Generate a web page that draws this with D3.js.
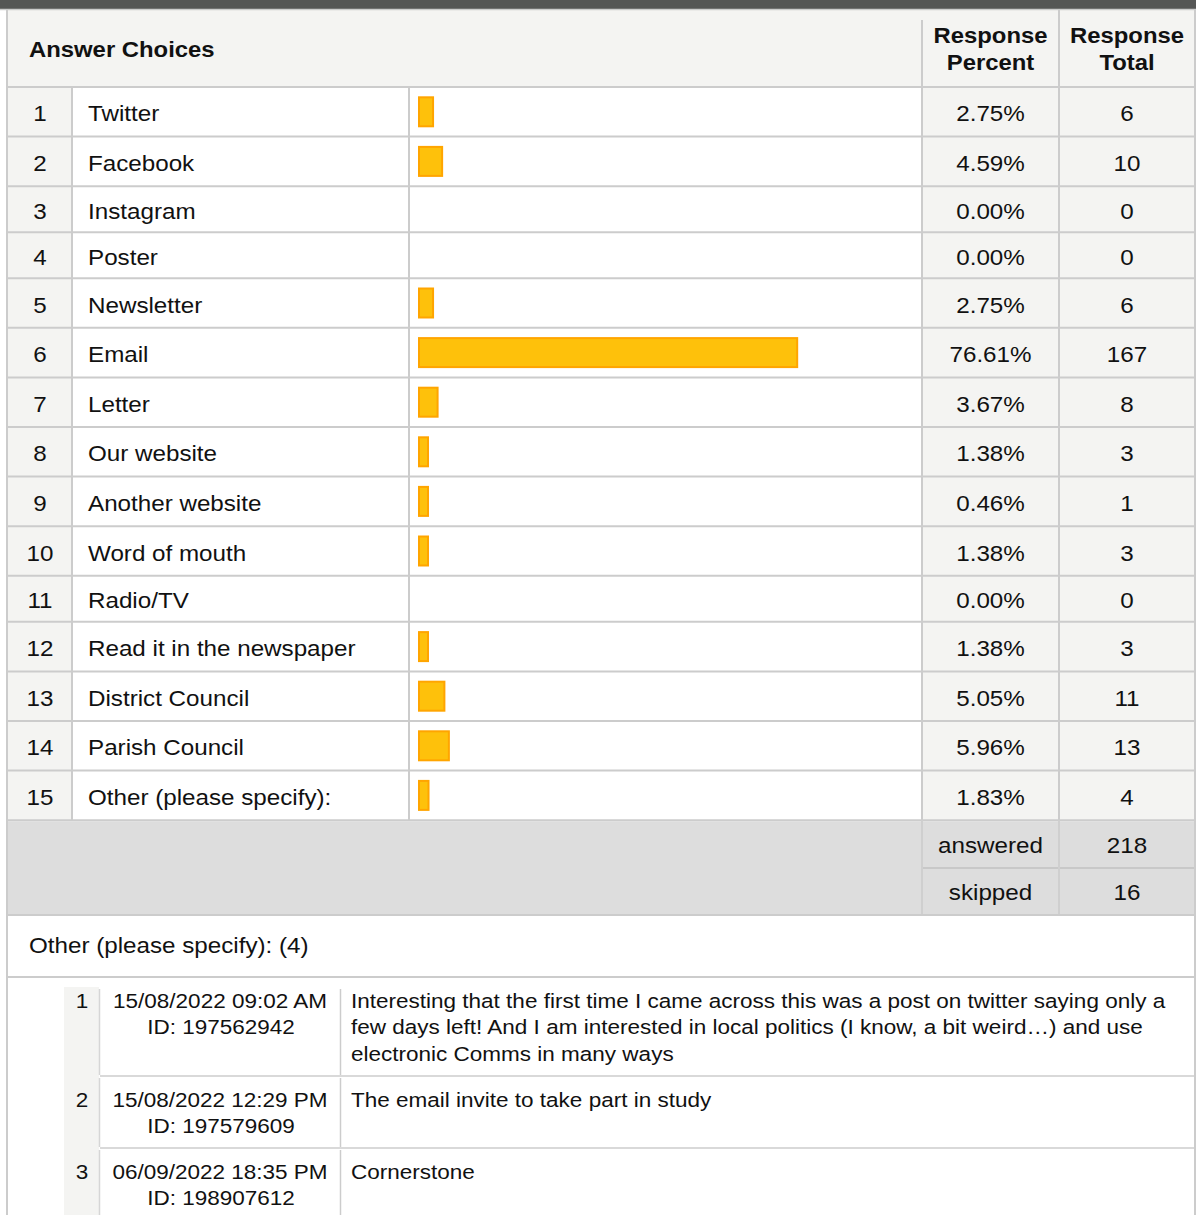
<!DOCTYPE html>
<html>
<head>
<meta charset="utf-8">
<script src="https://cdn.jsdelivr.net/npm/d3@7"></script>
<style>
  body { margin: 0; background: #fff; }
  svg { display: block; font-family: "Liberation Sans", Arial, sans-serif; }
</style>
</head>
<body>
<svg id="chart" width="1196" height="1215"></svg>
<script>
    // survey data
    var choices = ['Twitter', 'Facebook', 'Instagram', 'Poster', 'Newsletter', 'Email', 'Letter',
      'Our website', 'Another website', 'Word of mouth', 'Radio/TV', 'Read it in the newspaper',
      'District Council', 'Parish Council', 'Other (please specify):'];
    var percents = [2.75, 4.59, 0.00, 0.00, 2.75, 76.61, 3.67, 1.38, 0.46, 1.38, 0.00, 1.38, 5.05, 5.96, 1.83];
    var totals = [6, 10, 0, 0, 6, 167, 8, 3, 1, 3, 0, 3, 11, 13, 4];
    var summaryLabels = ['answered', 'skipped'];
    var summaryValues = [218, 16];
    var otherTitle = 'Other (please specify): (4)';
    var otherDates = ['15/08/2022 09:02 AM', '15/08/2022 12:29 PM', '06/09/2022 18:35 PM'];
    var otherIds = ['ID: 197562942', 'ID: 197579609', 'ID: 198907612'];
    var otherTexts = [
      ['Interesting that the first time I came across this was a post on twitter saying only a',
       'few days left! And I am interested in local politics (I know, a bit weird\u2026) and use',
       'electronic Comms in many ways'],
      ['The email invite to take part in study'],
      ['Cornerstone']
    ];

    var svg = d3.select('#chart');
    var W = 1196;
    var left = 7, right = 1195;
    var colNum = 72, colLabel = 409, colBar = 922, colPct = 1059;
    var lineColor = '#cccccc', lightBg = '#f4f4f2', greyBg = '#dddddd';

    // bar scale: percent -> px
    var x = d3.scaleLinear().domain([0, 100]).range([0, 493]);
    var fmt = d3.format('.2f');

    function hline(x1, x2, y, c, w) {
      svg.append('line').attr('x1', x1).attr('x2', x2).attr('y1', y).attr('y2', y)
        .attr('stroke', c || lineColor).attr('stroke-width', w || 2);
    }
    function vline(xp, y1, y2, c, w) {
      svg.append('line').attr('x1', xp).attr('x2', xp).attr('y1', y1).attr('y2', y2)
        .attr('stroke', c || lineColor).attr('stroke-width', w || 2);
    }
    // text is a bit wider than plain Liberation Sans in the source, so stretch it horizontally
    function text(s, xp, y, opts) {
      opts = opts || {};
      return svg.append('text')
        .attr('transform', 'translate(' + xp + ',' + y + ') scale(' + (opts.sx || 1.1) + ',1)')
        .attr('font-size', opts.size || 22)
        .attr('font-weight', opts.bold ? 'bold' : null)
        .attr('text-anchor', opts.anchor || 'start')
        .attr('fill', '#111')
        .text(s);
    }
    var head = {bold: true, size: 21.5, sx: 1.11};
    var headMid = {bold: true, size: 21.5, sx: 1.11, anchor: 'middle'};
    var mid = {anchor: 'middle'};
    var sub = {size: 19.5, sx: 1.155};
    var subMid = {size: 19.5, sx: 1.155, anchor: 'middle'};

    // top dark strip
    svg.append('rect').attr('x', 0).attr('y', 0).attr('width', W).attr('height', 9).attr('fill', '#555655');

    // header
    var headTop = 10, headBot = 87;
    svg.append('rect').attr('x', left).attr('y', headTop).attr('width', right - left).attr('height', headBot - headTop).attr('fill', lightBg);
    text('Answer Choices', 29, 57, head);
    text('Response', (colBar + colPct) / 2, 43, headMid);
    text('Percent', (colBar + colPct) / 2, 70, headMid);
    text('Response', (colPct + right) / 2, 43, headMid);
    text('Total', (colPct + right) / 2, 70, headMid);
    vline(colBar, 20, headBot);
    vline(colPct, headTop, headBot);

    // data rows
    var y = headBot;
    var rowTops = [];
    choices.forEach(function(c, i) {
      var h = totals[i] > 0 ? 49.6 : 46;
      rowTops.push([y, h]);
      y += h;
    });
    var tableBot = y;

    rowTops.forEach(function(r, i) {
      var top = r[0], h = r[1], cy = top + h / 2;
      svg.append('rect').attr('x', left).attr('y', top).attr('width', colNum - left).attr('height', h).attr('fill', lightBg);
      svg.append('rect').attr('x', colBar).attr('y', top).attr('width', right - colBar).attr('height', h).attr('fill', lightBg);
      text(i + 1, (left + colNum) / 2 + 0.5, cy + 9.5, mid);
      text(choices[i], 88, cy + 9.5);
      text(fmt(percents[i]) + '%', (colBar + colPct) / 2, cy + 9.5, mid);
      text(totals[i], (colPct + right) / 2, cy + 9.5, mid);
      if (percents[i] > 0) {
        var w = Math.max(11, x(percents[i]) + 2.5);
        svg.append('rect')
          .attr('x', 419).attr('y', cy - 14.5)
          .attr('width', w - 2).attr('height', 29)
          .attr('fill', '#fec10b').attr('stroke', '#ffa500').attr('stroke-width', 2);
      }
    });

    // grid for data rows
    rowTops.forEach(function(r) { hline(left, right, r[0]); });
    hline(left, right, tableBot);
    [colNum, colLabel, colBar, colPct].forEach(function(c) { vline(c, headBot, tableBot); });

    // answered / skipped
    var sumTops = [tableBot, 868], sumH = [48, 46];
    svg.append('rect').attr('x', left).attr('y', tableBot + 1).attr('width', right - left).attr('height', 914 - tableBot - 1).attr('fill', greyBg);
    summaryLabels.forEach(function(s, i) {
      var cy = sumTops[i] + sumH[i] / 2;
      text(s, (colBar + colPct) / 2, cy + 8.5, mid);
      text(summaryValues[i], (colPct + right) / 2, cy + 8.5, mid);
    });
    hline(colBar, right, 868, '#c8c8c8', 2);
    vline(colBar, tableBot, 914, '#cfcfcf', 2);
    vline(colPct, tableBot, 914, '#cfcfcf', 2);
    hline(left, right, 915);

    // other title row
    text(otherTitle, 29, 953);
    hline(left, right, 977);

    // other responses sub-table
    var subTops = [977, 1076, 1148], subBots = [1076, 1148, 1225];
    otherDates.forEach(function(d, i) {
      var top = subTops[i], bot = subBots[i];
      var bgTop = Math.max(top, 987);
      svg.append('rect').attr('x', 64).attr('y', bgTop).attr('width', 35).attr('height', bot - bgTop).attr('fill', lightBg);
      vline(99.5, bgTop + 2, bot - 1, '#d6d6d6', 1.5);
      vline(340.5, bgTop + 2, bot - 1, '#cccccc', 1.5);
      text(i + 1, 82, top + 30.5, subMid);
      text(d, 220, top + 30.5, subMid);
      text(otherIds[i], 221, top + 56.5, subMid);
      otherTexts[i].forEach(function(line, j) {
        text(line, 351, top + 30.5 + j * 26.5, sub);
      });
      if (i > 0) hline(100, right, top, '#cccccc', 1.5);
    });

    // outer borders
    vline(left, headTop, 1215);
    vline(right, headTop, 1215);
    hline(0, W, 9.5, '#cccccc', 1.5);
</script>
</body>
</html>
